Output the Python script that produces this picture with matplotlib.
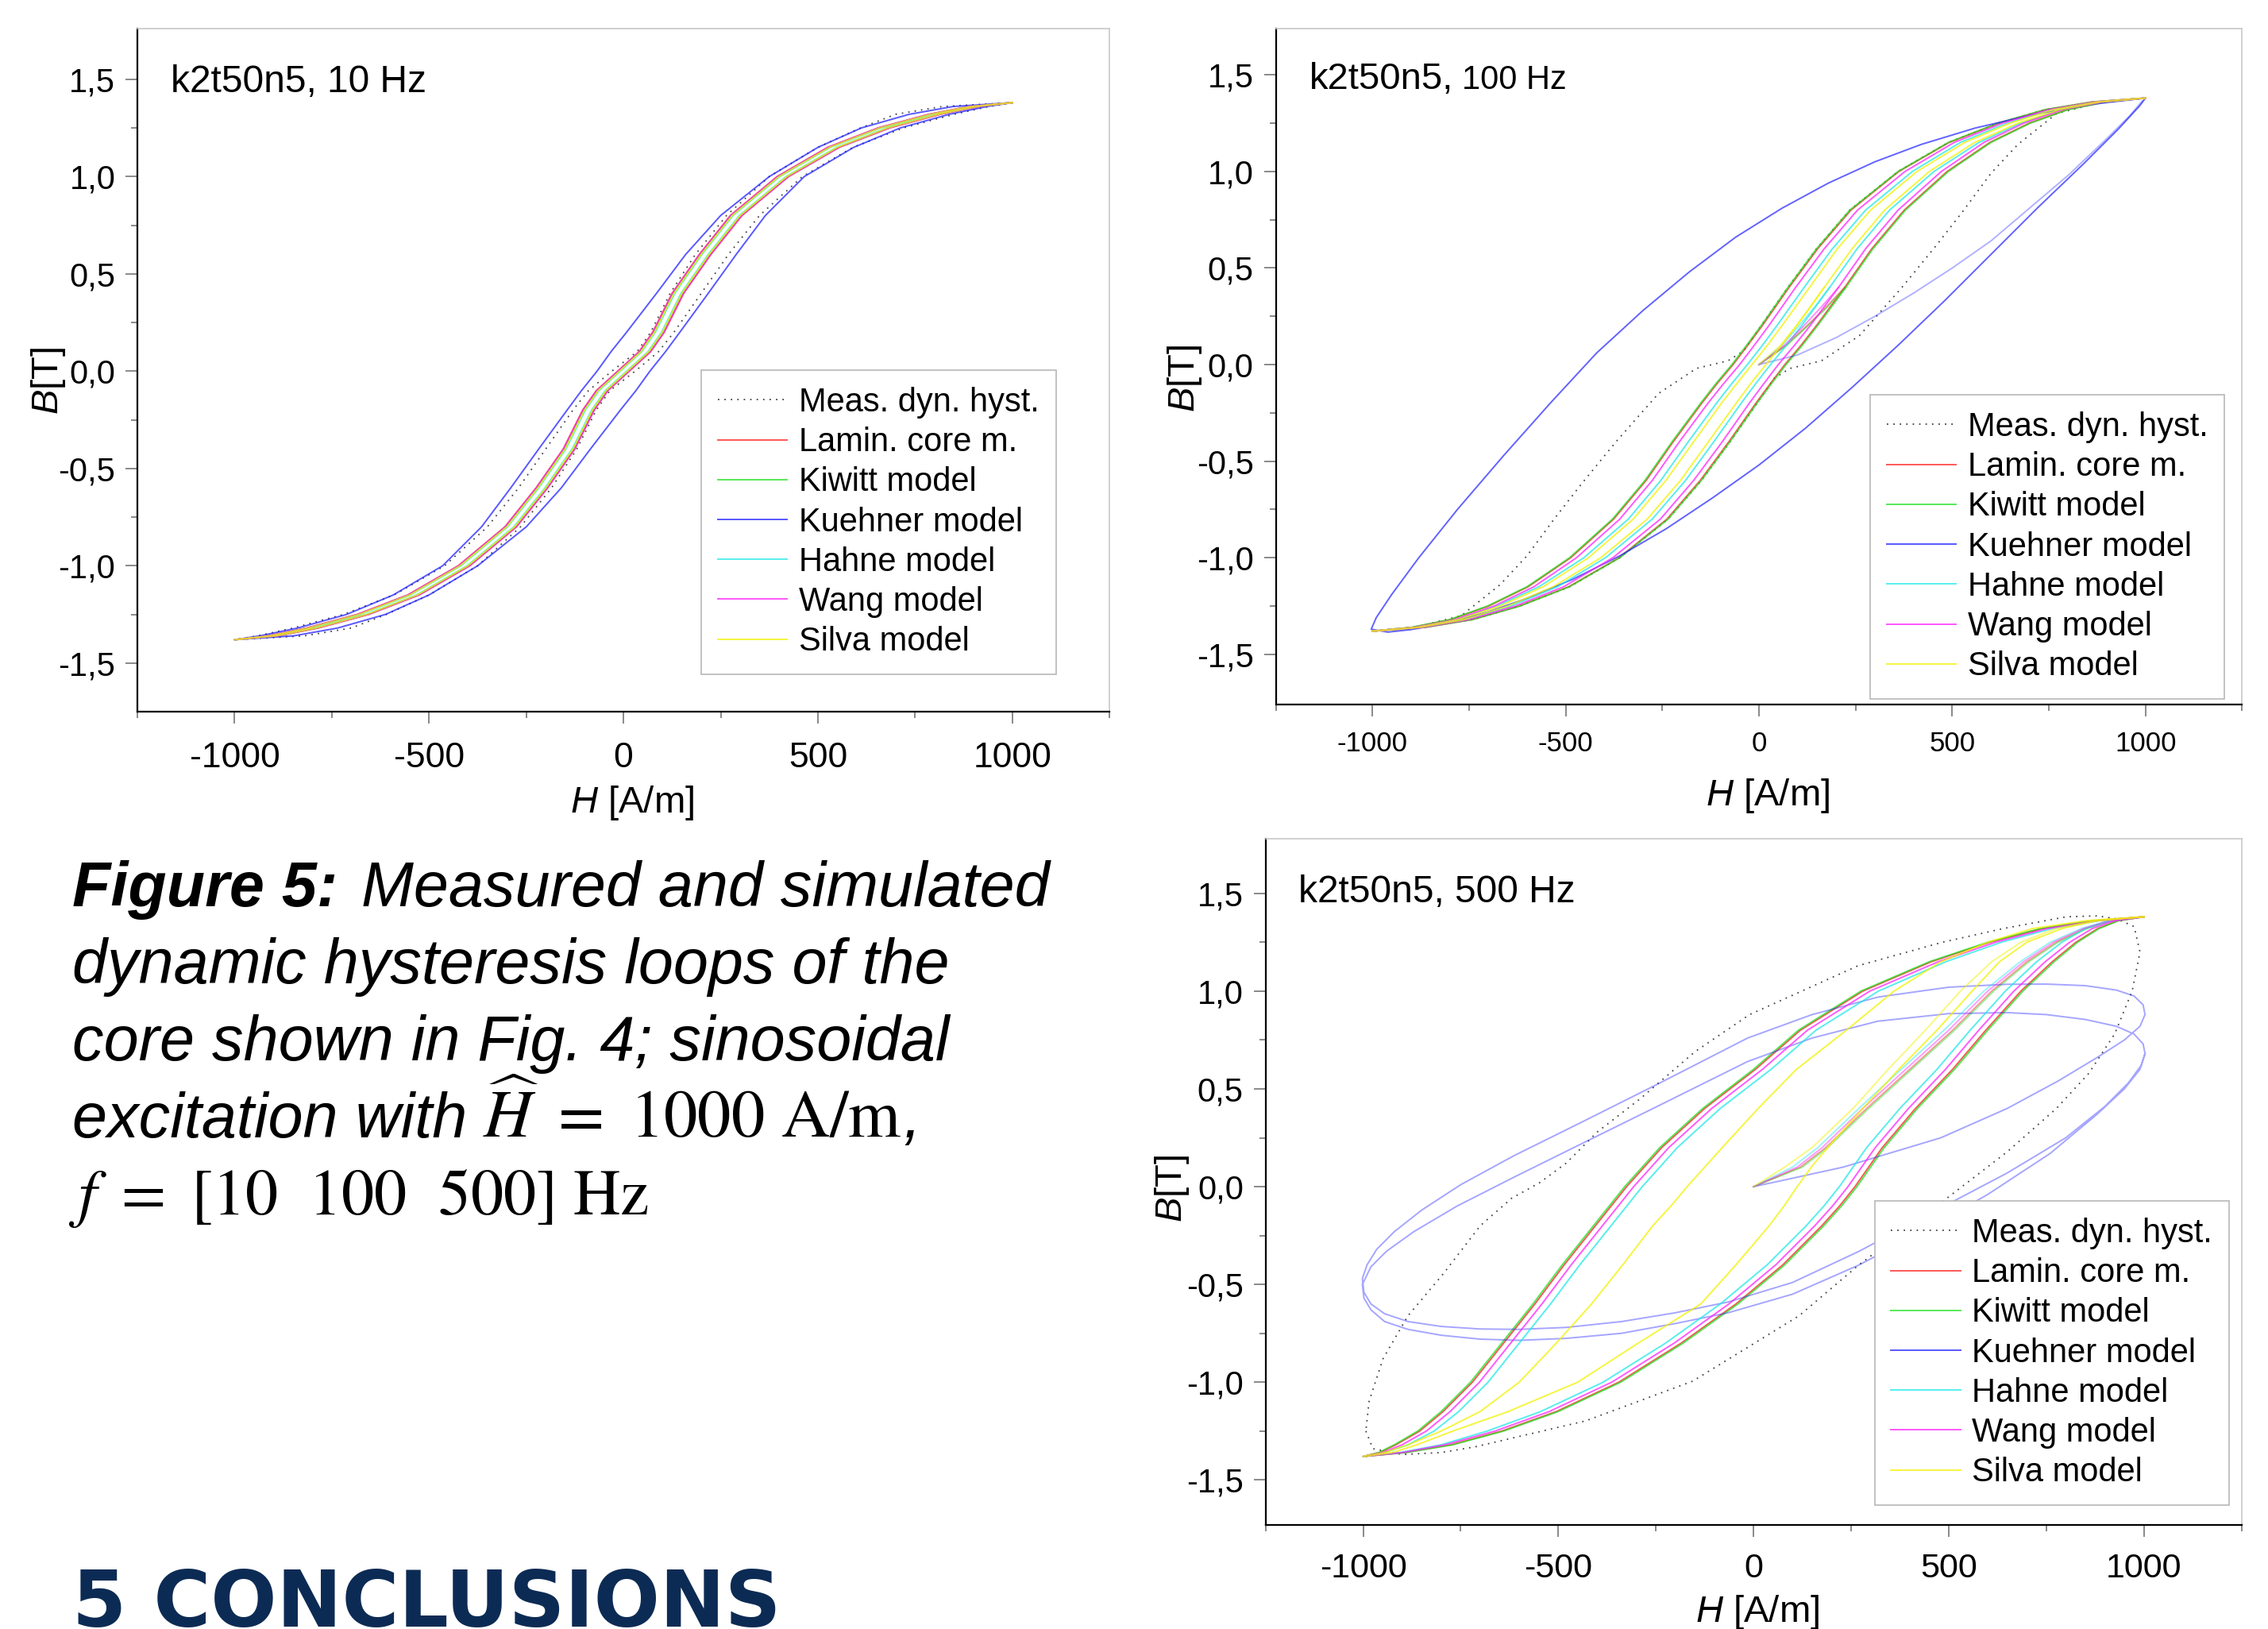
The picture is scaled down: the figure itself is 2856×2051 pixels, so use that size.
import numpy as np
import matplotlib.pyplot as plt

plt.rcParams['font.family'] = ['Liberation Sans', 'DejaVu Sans']
plt.rcParams['mathtext.fontset'] = 'custom'
plt.rcParams['mathtext.rm'] = 'Liberation Sans'
plt.rcParams['mathtext.it'] = 'Liberation Sans:italic'
plt.rcParams['mathtext.bf'] = 'Liberation Sans:bold'

# ---------------- data ----------------
LABELS = ['Meas. dyn. hyst.', 'Lamin. core m.', 'Kiwitt model', 'Kuehner model',
          'Hahne model', 'Wang model', 'Silva model']
COLORS = ['#303030', '#ff2020', '#20e020', '#2020ff', '#20e8e8', '#ff20ff', '#f2f200']

X_TICKS = [-1000, -500, 0, 500, 1000]
X_TICK_LABELS = ['-1000', '-500', '0', '500', '1000']
X_MINOR = [-1250, -750, -250, 250, 750, 1250]
Y_TICKS = [-1.5, -1.0, -0.5, 0.0, 0.5, 1.0, 1.5]
Y_TICK_LABELS = ['-1,5', '-1,0', '-0,5', '0,0', '0,5', '1,0', '1,5']
Y_MINOR = [-1.25, -0.75, -0.25, 0.25, 0.75, 1.25]

# flux density grid on which the model branches are read (T)
B_GRID = [-1.38, -1.36, -1.32, -1.25, -1.15, -1.0, -0.8, -0.6, -0.4, -0.2, -0.1, 0.0,
          0.1, 0.2, 0.4, 0.6, 0.8, 1.0, 1.15, 1.25, 1.32, 1.36, 1.38]
B_INIT_100 = [0.0, 0.1, 0.2, 0.3, 0.4]
B_INIT_500 = [0.0, 0.1, 0.2, 0.4, 0.6, 0.8, 1.0, 1.15, 1.25, 1.32, 1.36, 1.38]

# 10 Hz, field strength H (A/m) of descending / ascending branch at B_GRID
MEAS_10_DESC = [-1000, -940, -850, -720, -590, -460, -350, -270, -200, -130, -90, -30, 35, 70, 120, 185, 265, 375, 500, 610, 700, 820, 1000]
MEAS_10_ASC = [-1000, -820, -700, -610, -500, -375, -265, -185, -120, -70, -35, 30, 90, 130, 200, 270, 350, 460, 590, 720, 850, 940, 1000]
LAMIN_10_DESC = [-1000, -915, -815, -685, -555, -425, -305, -225, -155, -105, -70, -15, 40, 75, 125, 195, 275, 395, 525, 655, 785, 888, 1000]
LAMIN_10_ASC = [-1000, -888, -785, -655, -525, -395, -275, -195, -125, -75, -40, 15, 70, 105, 155, 225, 305, 425, 555, 685, 815, 915, 1000]
KIWITT_10_DESC = [-1000, -912, -812, -682, -552, -422, -302, -222, -152, -102, -67, -12, 43, 78, 128, 198, 278, 398, 528, 658, 788, 890, 1000]
KIWITT_10_ASC = [-1000, -890, -788, -658, -528, -398, -278, -198, -128, -78, -43, 12, 67, 102, 152, 222, 302, 422, 552, 682, 812, 912, 1000]
KUEHNER_10_DESC = [-1000, -935, -838, -712, -592, -465, -365, -290, -218, -145, -108, -68, -32, 8, 85, 160, 250, 375, 500, 612, 735, 848, 1000]
KUEHNER_10_ASC = [-1000, -848, -735, -612, -500, -375, -250, -160, -85, -8, 32, 68, 108, 145, 218, 290, 365, 465, 592, 712, 838, 935, 1000]
HAHNE_10_DESC = [-1000, -908, -808, -678, -548, -418, -298, -218, -148, -98, -63, -8, 47, 82, 132, 202, 282, 402, 532, 662, 792, 893, 1000]
HAHNE_10_ASC = [-1000, -893, -792, -662, -532, -402, -282, -202, -132, -82, -47, 8, 63, 98, 148, 218, 298, 418, 548, 678, 808, 908, 1000]
WANG_10_DESC = [-1000, -914, -814, -684, -554, -424, -304, -224, -154, -104, -69, -14, 41, 76, 126, 196, 276, 396, 526, 656, 786, 889, 1000]
WANG_10_ASC = [-1000, -889, -786, -656, -526, -396, -276, -196, -126, -76, -41, 14, 69, 104, 154, 224, 304, 424, 554, 684, 814, 914, 1000]
SILVA_10_DESC = [-1000, -910, -810, -680, -550, -420, -300, -220, -150, -100, -65, -10, 45, 80, 130, 200, 280, 400, 530, 660, 790, 892, 1000]
SILVA_10_ASC = [-1000, -892, -790, -660, -530, -400, -280, -200, -130, -80, -45, 10, 65, 100, 150, 220, 300, 420, 550, 680, 810, 910, 1000]

# 100 Hz
MEAS_100_H = [1000, 880, 740, 620, 490, 360, 235, 149, 75, 5, -40, -80, -162, -260, -370, -460, -530, -600, -670, -770, -880, -1000,
              -880, -740, -620, -490, -360, -235, -149, -75, -5, 40, 80, 162, 260, 370, 460, 530, 600, 670, 770, 880, 1000]
MEAS_100_B = [1.38, 1.36, 1.32, 1.25, 1.15, 1.0, 0.8, 0.6, 0.4, 0.2, 0.07, 0.02, -0.02, -0.15, -0.40, -0.62, -0.80, -0.99, -1.14, -1.30, -1.355, -1.38,
              -1.36, -1.32, -1.25, -1.15, -1.0, -0.8, -0.6, -0.4, -0.2, -0.07, -0.02, 0.02, 0.15, 0.40, 0.62, 0.80, 0.99, 1.14, 1.30, 1.355, 1.38]
LAMIN_100_DESC = [-1000, -896, -797, -699, -597, -487, -376, -292, -222, -148, -109, -67, -29, 8, 78, 152, 238, 362, 492, 620, 742, 863, 1000]
LAMIN_100_ASC = [-1000, -863, -742, -620, -492, -362, -238, -152, -78, -8, 29, 67, 109, 148, 222, 292, 376, 487, 597, 699, 797, 896, 1000]
KIWITT_100_DESC = [-1000, -898, -800, -702, -600, -490, -379, -295, -225, -151, -112, -70, -32, 5, 75, 149, 235, 360, 490, 618, 740, 862, 1000]
KIWITT_100_ASC = [-1000, -862, -740, -618, -490, -360, -235, -149, -75, -5, 32, 70, 112, 151, 225, 295, 379, 490, 600, 702, 800, 898, 1000]
HAHNE_100_DESC = [-1000, -888, -783, -678, -569, -453, -338, -254, -183, -110, -71, -30, 9, 46, 117, 190, 276, 397, 521, 642, 757, 872, 1000]
HAHNE_100_ASC = [-1000, -872, -757, -642, -521, -397, -276, -190, -117, -46, -9, 30, 71, 110, 183, 254, 338, 453, 569, 678, 783, 888, 1000]
WANG_100_DESC = [-1000, -890, -785, -685, -582, -472, -360, -276, -206, -132, -92, -50, -12, 25, 95, 169, 255, 378, 505, 630, 750, 868, 1000]
WANG_100_ASC = [-1000, -868, -750, -630, -505, -378, -255, -169, -95, -25, 12, 50, 92, 132, 206, 276, 360, 472, 582, 685, 785, 890, 1000]
SILVA_100_DESC = [-1000, -885, -778, -670, -558, -441, -325, -241, -169, -97, -58, -18, 22, 59, 131, 203, 289, 409, 532, 650, 762, 875, 1000]
SILVA_100_ASC = [-1000, -875, -762, -650, -532, -409, -289, -203, -131, -59, -22, 18, 58, 97, 169, 241, 325, 441, 558, 670, 778, 885, 1000]
LAMIN_100_INIT = [0, 70, 124, 175, 222]
KIWITT_100_INIT = [0, 72, 126, 178, 225]
HAHNE_100_INIT = [0, 60, 103, 145, 183]
WANG_100_INIT = [0, 66, 116, 162, 206]
SILVA_100_INIT = [0, 56, 96, 134, 169]
KUEHNER_100_H = [1000, 850, 700, 560, 420, 300, 180, 60, -60, -180, -300, -420, -540, -660, -780, -880, -950, -990, -1003,
                 -960, -900, -800, -700, -600, -480, -360, -240, -120, 0, 120, 240, 360, 480, 600, 720, 840, 930, 985, 1000]
KUEHNER_100_B = [1.38, 1.345, 1.29, 1.225, 1.14, 1.05, 0.94, 0.81, 0.66, 0.48, 0.28, 0.06, -0.20, -0.47, -0.75, -1.0, -1.19, -1.31, -1.37,
                 -1.385, -1.372, -1.335, -1.28, -1.21, -1.11, -0.99, -0.85, -0.69, -0.52, -0.33, -0.12, 0.10, 0.33, 0.57, 0.81, 1.04, 1.22, 1.34, 1.38]
KUEHNER_100_INIT_H = [0, 100, 200, 300, 400, 500, 600, 700, 800, 900, 960, 992]
KUEHNER_100_INIT_B = [0, 0.05, 0.14, 0.25, 0.37, 0.50, 0.64, 0.81, 0.98, 1.17, 1.29, 1.366]

# 500 Hz
MEAS_500_H = [-993, -975, -900, -800, -712, -430, -156, 117, 270, 430, 560, 651, 776, 859, 925, 970, 990, 975, 930, 880, 801,
              640, 484, 268, -10, -150, -290, -400, -480, -548, -620, -700, -794, -885, -949, -985, -993]
MEAS_500_B = [-1.25, -1.34, -1.37, -1.36, -1.33, -1.198, -0.995, -0.66, -0.40, -0.16, 0.04, 0.18, 0.40, 0.58, 0.78, 1.00, 1.20, 1.33, 1.37, 1.385, 1.38,
              1.32, 1.25, 1.13, 0.88, 0.69, 0.45, 0.28, 0.12, 0.02, -0.06, -0.20, -0.444, -0.66, -0.88, -1.10, -1.25]
LAMIN_500_DESC = [-1000, -958, -916, -855, -795, -720, -640, -560, -485, -405, -365, -325, -280, -235, -125, 5, 120, 280, 455, 605, 740, 872, 1000]
LAMIN_500_ASC = [-1000, -893, -775, -645, -505, -345, -185, -45, 75, 175, 220, 260, 295, 330, 415, 510, 595, 685, 765, 826, 882, 933, 1000]
KIWITT_500_DESC = [-1000, -960, -920, -860, -800, -725, -645, -565, -490, -410, -370, -330, -285, -240, -130, 0, 115, 275, 450, 600, 735, 870, 1000]
KIWITT_500_ASC = [-1000, -890, -770, -640, -500, -340, -180, -40, 80, 180, 225, 265, 300, 335, 420, 515, 600, 690, 770, 830, 885, 935, 1000]
HAHNE_500_DESC = [-1000, -945, -885, -818, -755, -680, -600, -520, -445, -365, -325, -285, -240, -195, -85, 45, 160, 320, 492, 635, 765, 885, 1000]
HAHNE_500_ASC = [-1000, -905, -800, -682, -545, -385, -225, -85, 35, 135, 180, 220, 255, 290, 375, 470, 555, 645, 725, 790, 850, 915, 1000]
WANG_500_DESC = [-1000, -950, -900, -838, -777, -702, -622, -542, -467, -387, -347, -307, -262, -217, -107, 23, 138, 298, 473, 620, 752, 878, 1000]
WANG_500_ASC = [-1000, -900, -790, -662, -523, -363, -203, -63, 57, 157, 202, 242, 277, 312, 397, 492, 577, 667, 747, 810, 868, 925, 1000]
SILVA_500_DESC = [-1000, -945, -885, -800, -700, -600, -505, -415, -335, -258, -212, -170, -125, -80, 12, 110, 238, 360, 480, 600, 715, 850, 1000]
SILVA_500_ASC = [-1000, -925, -862, -770, -628, -450, -295, -135, -45, 40, 78, 112, 148, 190, 280, 372, 470, 560, 630, 700, 790, 880, 1000]
LAMIN_500_INIT = [0, 120, 185, 290, 400, 510, 610, 700, 775, 850, 915, 1000]
KIWITT_500_INIT = [0, 125, 190, 295, 405, 515, 615, 705, 780, 855, 918, 1000]
HAHNE_500_INIT = [0, 100, 165, 270, 378, 488, 590, 683, 760, 840, 908, 1000]
WANG_500_INIT = [0, 112, 176, 280, 390, 500, 600, 692, 768, 845, 912, 1000]
SILVA_500_INIT = [0, 80, 150, 255, 345, 440, 530, 610, 685, 775, 870, 1000]
# Kuehner 500 Hz: initial rise, then two successive elliptic cycles
KUEHNER_500_H = [0, 70, 230, 480, 650, 780, 880, 950, 990, 1003,
                 998, 975, 930, 850, 750, 650, 500, 320, 150, -15, -250, -450, -612, -750, -850, -920, -965, -990, -1002,
                 -998, -980, -945, -885, -800, -700, -600, -480, -338, -200, -65, 100, 271, 450, 650, 800, 900, 960, 993, 1003,
                 998, 975, 930, 850, 750, 650, 500, 318, 150, -15, -247, -450, -612, -760, -870, -940, -980, -1002,
                 -998, -980, -945, -885, -800, -700, -600, -480, -338, -200, -65, 100, 271, 450, 600, 760, 880, 950, 990, 1003]
KUEHNER_500_B = [0, 0.03, 0.10, 0.25, 0.40, 0.54, 0.66, 0.75, 0.82, 0.88,
                 0.93, 0.975, 1.005, 1.028, 1.036, 1.035, 1.02, 0.97, 0.88, 0.76, 0.52, 0.32, 0.16, 0.01, -0.12, -0.23, -0.32, -0.40, -0.47,
                 -0.54, -0.60, -0.65, -0.69, -0.715, -0.728, -0.73, -0.72, -0.69, -0.645, -0.59, -0.49, -0.33, -0.14, 0.07, 0.25, 0.41, 0.53, 0.62, 0.68,
                 0.73, 0.78, 0.82, 0.855, 0.88, 0.89, 0.885, 0.846, 0.76, 0.64, 0.41, 0.21, 0.05, -0.10, -0.23, -0.33, -0.41, -0.50,
                 -0.57, -0.63, -0.69, -0.73, -0.76, -0.78, -0.786, -0.776, -0.75, -0.70, -0.645, -0.55, -0.40, -0.21, -0.04, 0.17, 0.37, 0.50, 0.60, 0.68]


# ---------------- helpers ----------------
def grid_loop(desc, asc):
    # descending branch from +Bmax down, then ascending branch back up
    return desc[::-1] + asc, B_GRID[::-1] + B_GRID


def draw(ax, h, b, k, alpha=0.75, label=True):
    kw = dict(color=COLORS[k], lw=1.4, alpha=alpha, solid_joinstyle='round')
    if k == 0:
        kw.update(ls=(0, (1, 3.5)), lw=1.3, alpha=0.9)
    ax.plot(h, b, label=LABELS[k] if label else None, **kw)


def style_axes(ax, ylim, xsize, xpad):
    ax.set_xlim(-1250, 1250)
    ax.set_ylim(*ylim)
    ax.set_xticks(X_TICKS)
    ax.set_xticklabels(X_TICK_LABELS)
    ax.set_xticks(X_MINOR, minor=True)
    ax.set_yticks(Y_TICKS)
    ax.set_yticklabels(Y_TICK_LABELS)
    ax.set_yticks(Y_MINOR, minor=True)
    ax.tick_params(which='major', direction='out', length=11, width=1.3,
                   color='#808080', labelsize=30, pad=9)
    ax.tick_params(which='minor', direction='out', length=6, width=1.3, color='#808080')
    ax.tick_params(axis='x', which='major', labelsize=xsize, pad=xpad)
    for s in ['top', 'right']:
        ax.spines[s].set_color('#c8c8c8')
        ax.spines[s].set_linewidth(1.2)
    for s in ['left', 'bottom']:
        ax.spines[s].set_color('black')
        ax.spines[s].set_linewidth(1.6)


def add_legend(ax, x0, y0):
    leg = ax.legend(loc='upper left', bbox_to_anchor=(x0, y0), frameon=True, fancybox=False,
                    edgecolor='#b8b8b8', framealpha=1, fontsize=30, handlelength=2.1,
                    handletextpad=0.35, labelspacing=0.245, borderpad=0.5, borderaxespad=0)
    leg.get_frame().set_linewidth(1.2)
    for hd in leg.legend_handles:
        if hd.get_linestyle() == '-':
            hd.set_alpha(0.75)


fig = plt.figure(figsize=(28.56, 20.51), dpi=100)
ax1 = fig.add_axes([0.0606, 0.5631, 0.4286, 0.4193])
ax2 = fig.add_axes([0.5625, 0.5675, 0.4261, 0.4150])
ax3 = fig.add_axes([0.5580, 0.0639, 0.4303, 0.4213])

# ---- 10 Hz ----
draw(ax1, *grid_loop(MEAS_10_DESC, MEAS_10_ASC), 0)
draw(ax1, *grid_loop(LAMIN_10_DESC, LAMIN_10_ASC), 1)
draw(ax1, *grid_loop(KIWITT_10_DESC, KIWITT_10_ASC), 2)
draw(ax1, *grid_loop(KUEHNER_10_DESC, KUEHNER_10_ASC), 3)
draw(ax1, *grid_loop(HAHNE_10_DESC, HAHNE_10_ASC), 4)
draw(ax1, *grid_loop(WANG_10_DESC, WANG_10_ASC), 5)
draw(ax1, *grid_loop(SILVA_10_DESC, SILVA_10_ASC), 6)

# ---- 100 Hz ----
draw(ax2, MEAS_100_H, MEAS_100_B, 0)
draw(ax2, *grid_loop(LAMIN_100_DESC, LAMIN_100_ASC), 1)
draw(ax2, LAMIN_100_INIT, B_INIT_100, 1, alpha=0.5, label=False)
draw(ax2, *grid_loop(KIWITT_100_DESC, KIWITT_100_ASC), 2)
draw(ax2, KIWITT_100_INIT, B_INIT_100, 2, alpha=0.5, label=False)
draw(ax2, KUEHNER_100_H, KUEHNER_100_B, 3, alpha=0.7)
draw(ax2, KUEHNER_100_INIT_H, KUEHNER_100_INIT_B, 3, alpha=0.35, label=False)
draw(ax2, *grid_loop(HAHNE_100_DESC, HAHNE_100_ASC), 4)
draw(ax2, HAHNE_100_INIT, B_INIT_100, 4, alpha=0.5, label=False)
draw(ax2, *grid_loop(WANG_100_DESC, WANG_100_ASC), 5)
draw(ax2, WANG_100_INIT, B_INIT_100, 5, alpha=0.5, label=False)
draw(ax2, *grid_loop(SILVA_100_DESC, SILVA_100_ASC), 6)
draw(ax2, SILVA_100_INIT, B_INIT_100, 6, alpha=0.5, label=False)

# ---- 500 Hz ----
draw(ax3, MEAS_500_H, MEAS_500_B, 0)
draw(ax3, *grid_loop(LAMIN_500_DESC, LAMIN_500_ASC), 1)
draw(ax3, LAMIN_500_INIT, B_INIT_500, 1, alpha=0.45, label=False)
draw(ax3, *grid_loop(KIWITT_500_DESC, KIWITT_500_ASC), 2)
draw(ax3, KIWITT_500_INIT, B_INIT_500, 2, alpha=0.45, label=False)
draw(ax3, KUEHNER_500_H, KUEHNER_500_B, 3, alpha=0.4)
draw(ax3, *grid_loop(HAHNE_500_DESC, HAHNE_500_ASC), 4)
draw(ax3, HAHNE_500_INIT, B_INIT_500, 4, alpha=0.45, label=False)
draw(ax3, *grid_loop(WANG_500_DESC, WANG_500_ASC), 5)
draw(ax3, WANG_500_INIT, B_INIT_500, 5, alpha=0.45, label=False)
draw(ax3, *grid_loop(SILVA_500_DESC, SILVA_500_ASC), 6)
draw(ax3, SILVA_500_INIT, B_INIT_500, 6, alpha=0.5, label=False)

style_axes(ax1, (-1.75, 1.76), 32, 16)
style_axes(ax2, (-1.76, 1.74), 25, 13)
style_axes(ax3, (-1.73, 1.78), 31, 14)

add_legend(ax1, 0.580, 0.500)
add_legend(ax2, 0.615, 0.458)
add_legend(ax3, 0.624, 0.472)

for ax, xl, yl in [(ax1, (0.509, -0.106), (-0.072, 0.485)),
                   (ax2, (0.509, -0.107), (-0.074, 0.482)),
                   (ax3, (0.504, -0.100), (-0.076, 0.490))]:
    ax.set_xlabel(r'$H$ [A/m]', fontsize=34)
    ax.set_ylabel(r'$B$[T]', fontsize=34)
    ax.xaxis.set_label_coords(*xl)
    ax.yaxis.set_label_coords(*yl)

renderer = fig.canvas.get_renderer()

ax1.text(0.034, 0.907, 'k2t50n5, 10 Hz', transform=ax1.transAxes, fontsize=34.5, va='baseline')
t = ax2.text(0.0345, 0.910, 'k2t50n5,', transform=ax2.transAxes, fontsize=34, va='baseline')
bb = t.get_window_extent(renderer).transformed(ax2.transAxes.inverted())
ax2.text(bb.x1 + 0.009, 0.910, '100 Hz', transform=ax2.transAxes, fontsize=30, va='baseline')
ax3.text(0.034, 0.907, 'k2t50n5, 500 Hz', transform=ax3.transAxes, fontsize=34.5, va='baseline')

# ---- caption ----
W, H = fig.bbox.width, fig.bbox.height
x0 = 91 / W
baselines = [1141, 1238, 1335, 1432, 1529]


def follow(prev, gap, s, y, **kw):
    bbp = prev.get_window_extent(renderer)
    return fig.text((bbp.x1 + gap) / W, y, s, va='baseline', **kw)


y = 1 - baselines[0] / H
t = fig.text(x0, y, 'Figure 5:', fontsize=57, fontweight='bold', fontstyle='italic', va='baseline')
follow(t, 30, 'Measured and simulated', y, fontsize=57, fontstyle='italic')
fig.text(x0, 1 - baselines[1] / H, 'dynamic hysteresis loops of the', fontsize=57,
         fontstyle='italic', va='baseline')
fig.text(x0, 1 - baselines[2] / H, 'core shown in Fig. 4; sinosoidal', fontsize=57,
         fontstyle='italic', va='baseline')
y = 1 - baselines[3] / H
t = fig.text(x0, y, 'excitation with', fontsize=57, fontstyle='italic', va='baseline')
t = follow(t, 20, r'$\widehat{H}\ =\ 1000\ \mathrm{A/m}$', y, fontsize=61, math_fontfamily='stix')
follow(t, 2, ',', y, fontsize=57, fontstyle='italic')
fig.text(86 / W, 1 - baselines[4] / H, r'$f\ =\ [10\ \ 100\ \ 500]\ \mathrm{Hz}$',
         fontsize=59, va='baseline', math_fontfamily='stix')

# ---- section heading ----
head = fig.text(91 / W, 1 - 2048 / H, '5 CONCLUSIONS', fontsize=80, fontweight='bold',
                family=['DejaVu Sans Condensed', 'Liberation Sans Narrow', 'DejaVu Sans'],
                color='#0c2b54', va='baseline')
wh = head.get_window_extent(renderer).width
head.set_fontsize(80 * 893 / wh)

fig.savefig('out.png', dpi=100)
